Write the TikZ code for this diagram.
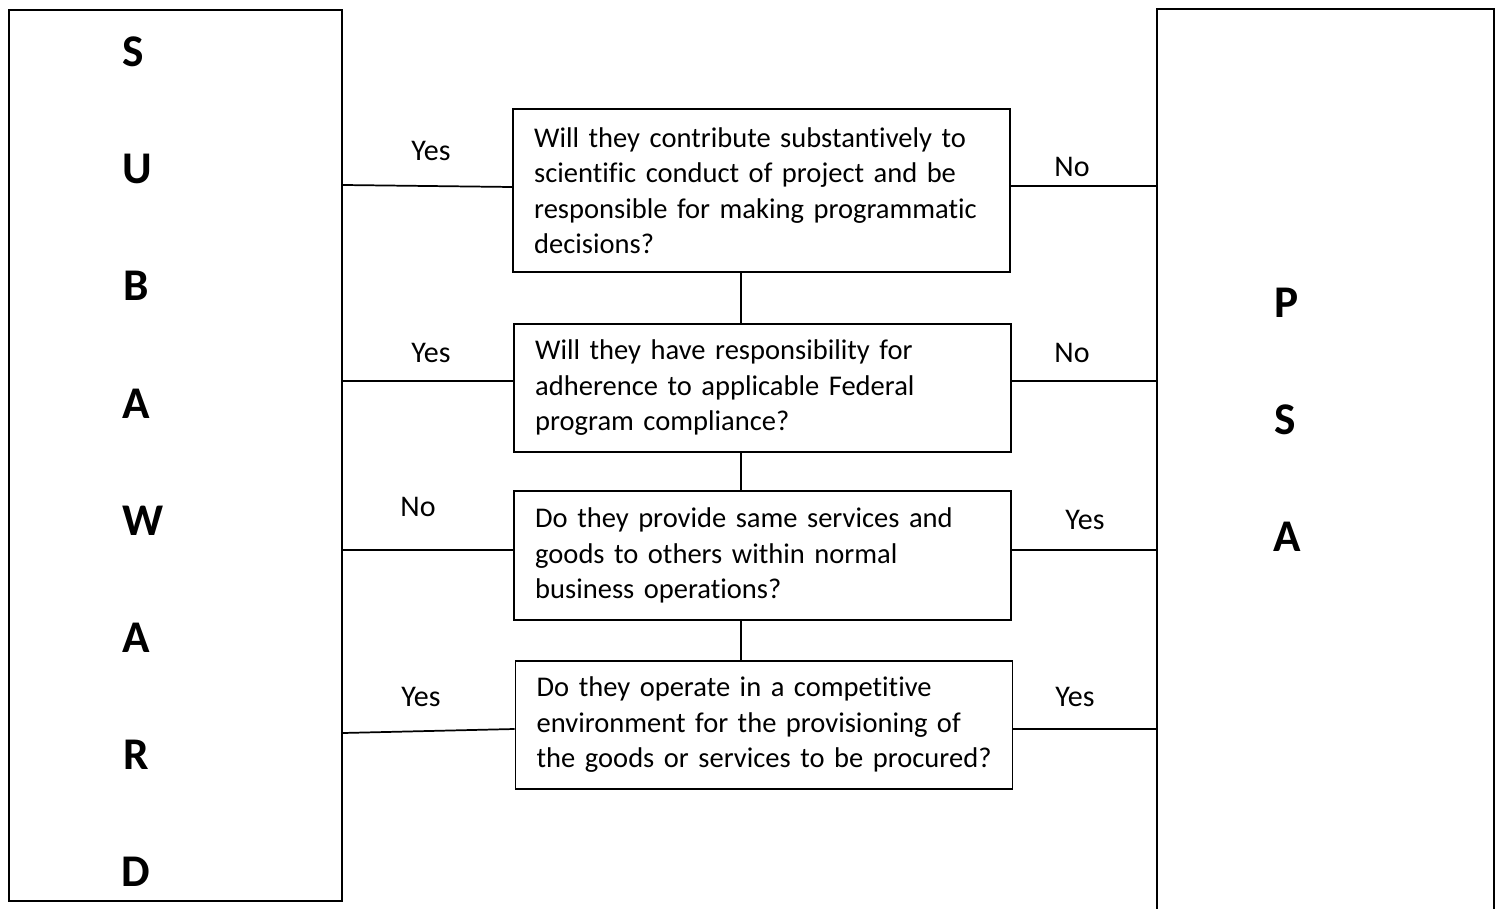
\documentclass[tikz,border=0pt]{standalone}
\usepackage{fontspec}
\setmainfont{Carlito}[Ligatures=NoCommon]
\begin{document}
\begin{tikzpicture}[x=0.75pt,y=-0.75pt,line width=1.3pt,
  qbox/.style={draw,rectangle,inner sep=0pt,minimum width=372.75pt,text width=341pt,align=left,font=\fontsize{21.4}{26.6}\selectfont},
  lbl/.style={inner sep=0pt,font=\fontsize{22.5}{26}\selectfont},
  big/.style={inner sep=0pt,font=\fontsize{34}{38}\selectfont\bfseries},
  sidebox/.style={rectangle,inner sep=0pt}]
\useasboundingbox (0,0) rectangle (1499,909);

% side boxes
\node[sidebox,draw,minimum width=249.75pt,minimum height=668.25pt] (sub) at (175.5,455.5) {};
\node[sidebox,minimum width=251.25pt,minimum height=674.25pt] (psa) at (1325.5,459.5) {};
\draw (psa.south west) -- (psa.north west) -- (psa.north east) -- (psa.south east);

% letters
\node[big] (s1) at (133,52) {S};
\node[big] (s2) at (137,169) {U};
\node[big] (s3) at (136,286) {B};
\node[big] (s4) at (136,404) {A};
\node[big] (s5) at (143,521) {W};
\node[big] (s6) at (136,638) {A};
\node[big] (s7) at (136,755) {R};
\node[big] (s8) at (136,872) {D};
\node[big] (p1) at (1287,303) {P};
\node[big] (p2) at (1285,420) {S};
\node[big] (p3) at (1287,537) {A};

% question boxes
\node[qbox,minimum height=122.25pt] (q1) at (761.5,190.5) {Will they contribute substantively to\\scientific conduct of project and be\\responsible for making programmatic\\decisions?};
\node[qbox,minimum height=96pt] (q2) at (762.5,388) {Will they have responsibility for\\adherence to applicable Federal\\program compliance?};
\node[qbox,minimum height=96.75pt] (q3) at (762.5,555.5) {Do they provide same services and\\goods to others within normal\\business operations?};
\node[qbox,minimum height=96pt] (q4) at (764,725) {Do they operate in a competitive\\environment for the provisioning of\\the goods or services to be procured?};

% helper coordinates
\coordinate (vx) at (741,0);
\coordinate (r1a) at (0,185);
\coordinate (r1) at (0,187);
\coordinate (r1b) at (0,186);
\coordinate (r2) at (0,381);
\coordinate (r3) at (0,550);
\coordinate (r4a) at (0,733);
\coordinate (r4) at (0,729);

% vertical connectors
\draw (q1.south -| vx) -- (q2.north -| vx);
\draw (q2.south -| vx) -- (q3.north -| vx);
\draw (q3.south -| vx) -- (q4.north -| vx);

% horizontal connectors
\draw (sub.east |- r1a) -- (q1.west |- r1);
\draw (q1.east |- r1b) -- (psa.west |- r1b);
\draw (sub.east |- r2) -- (q2.west |- r2);
\draw (q2.east |- r2) -- (psa.west |- r2);
\draw (sub.east |- r3) -- (q3.west |- r3);
\draw (q3.east |- r3) -- (psa.west |- r3);
\draw (sub.east |- r4a) -- (q4.west |- r4);
\draw (q4.east |- r4) -- (psa.west |- r4);

% labels
\node[lbl] (y1) at (431,151) {Yes};
\node[lbl] (n1) at (1072,167) {No};
\node[lbl] (y2) at (431,353) {Yes};
\node[lbl] (n2) at (1072,353) {No};
\node[lbl] (n3) at (418,507) {No};
\node[lbl] (y3) at (1085,520) {Yes};
\node[lbl] (y4) at (421,697) {Yes};
\node[lbl] (y5) at (1075,697) {Yes};
\end{tikzpicture}
\end{document}
